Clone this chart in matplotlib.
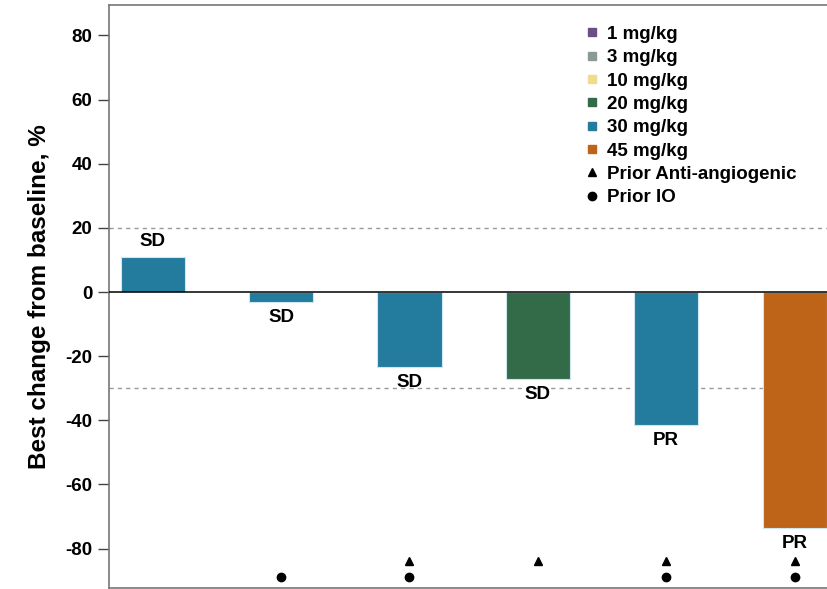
import matplotlib.pyplot as plt
from matplotlib.lines import Line2D

plt.rcParams['font.family'] = ['Liberation Sans', 'DejaVu Sans']
plt.rcParams['font.weight'] = 'bold'
plt.rcParams['axes.unicode_minus'] = False

# ------------------------------------------------------------------
# data
# ------------------------------------------------------------------
best_change = [11, -3, -23.3, -27, -41.5, -73.5]
dose_group = ["30 mg/kg", "30 mg/kg", "30 mg/kg", "20 mg/kg", "30 mg/kg", "45 mg/kg"]
response = ["SD", "SD", "SD", "SD", "PR", "PR"]
prior_antiangio = [False, False, True, True, True, True]
prior_io = [False, True, True, False, True, True]

dose_labels = ["1 mg/kg", "3 mg/kg", "10 mg/kg", "20 mg/kg", "30 mg/kg", "45 mg/kg"]
dose_colors = ["#6a4f86", "#8a9b93", "#f1dc8d", "#336b48", "#237c9e", "#bd6419"]
color_map = dict(zip(dose_labels, dose_colors))

ref_lines = [20, -30]
yticks = [-80, -60, -40, -20, 0, 20, 40, 60, 80]

# ------------------------------------------------------------------
# figure
# ------------------------------------------------------------------
fig = plt.figure(figsize=(8.28, 5.89), dpi=100)
ax = fig.add_axes([109 / 828, 1 / 589, 1 - 109 / 828, 583 / 589])

x = list(range(len(best_change)))
ax.bar(x, best_change, width=0.5,
       color=[color_map[d] for d in dose_group],
       edgecolor="#cfe6ef", linewidth=0.8, zorder=2)

for v in ref_lines:
    ax.axhline(v, color="#999999", linestyle=(0, (3, 3)), linewidth=1, zorder=1)
ax.axhline(0, color="black", linewidth=1.1, zorder=3)

for xi, v, r in zip(x, best_change, response):
    if v >= 0:
        ax.annotate(r, (xi, v), xytext=(0, 5), textcoords="offset points",
                    ha="center", va="bottom", fontsize=13.5, fontweight="bold")
    else:
        ax.annotate(r, (xi, v), xytext=(0, -5), textcoords="offset points",
                    ha="center", va="top", fontsize=13.5, fontweight="bold")

# prior therapy markers
tri_x = [xi for xi, f in zip(x, prior_antiangio) if f]
dot_x = [xi for xi, f in zip(x, prior_io) if f]
ax.plot(tri_x, [-84] * len(tri_x), linestyle="none", marker="^",
        color="black", markersize=6, zorder=4)
ax.plot(dot_x, [-89] * len(dot_x), linestyle="none", marker="o",
        color="black", markersize=6, zorder=4)

ax.set_xlim(-0.34, 5.26)
ax.set_ylim(-92.3, 89.5)
ax.set_yticks(yticks)
ax.set_xticks([])
ax.tick_params(axis="y", length=8, width=1, color="#444444", labelsize=13.5, pad=4)
for lbl in ax.get_yticklabels():
    lbl.set_fontweight("bold")

for side in ["left", "top", "bottom"]:
    ax.spines[side].set_color("#777777")
    ax.spines[side].set_linewidth(1.2)
ax.spines["right"].set_visible(False)

ax.set_ylabel("Best change from baseline, %", fontsize=17.5, fontweight="bold", labelpad=10)

handles = [Line2D([], [], linestyle="none", marker="s", markersize=6,
                  color=c) for c in dose_colors]
handles.append(Line2D([], [], linestyle="none", marker="^", markersize=6, color="black"))
handles.append(Line2D([], [], linestyle="none", marker="o", markersize=6, color="black"))
labels = dose_labels + ["Prior Anti-angiogenic", "Prior IO"]
leg = ax.legend(handles, labels, loc="upper left", bbox_to_anchor=(0.654, 0.977),
                frameon=False, fontsize=13.5, handlelength=0.6, handletextpad=0.5,
                labelspacing=0.33, borderaxespad=0)
for t in leg.get_texts():
    t.set_fontweight("bold")

fig.savefig("out.png", dpi=100)
